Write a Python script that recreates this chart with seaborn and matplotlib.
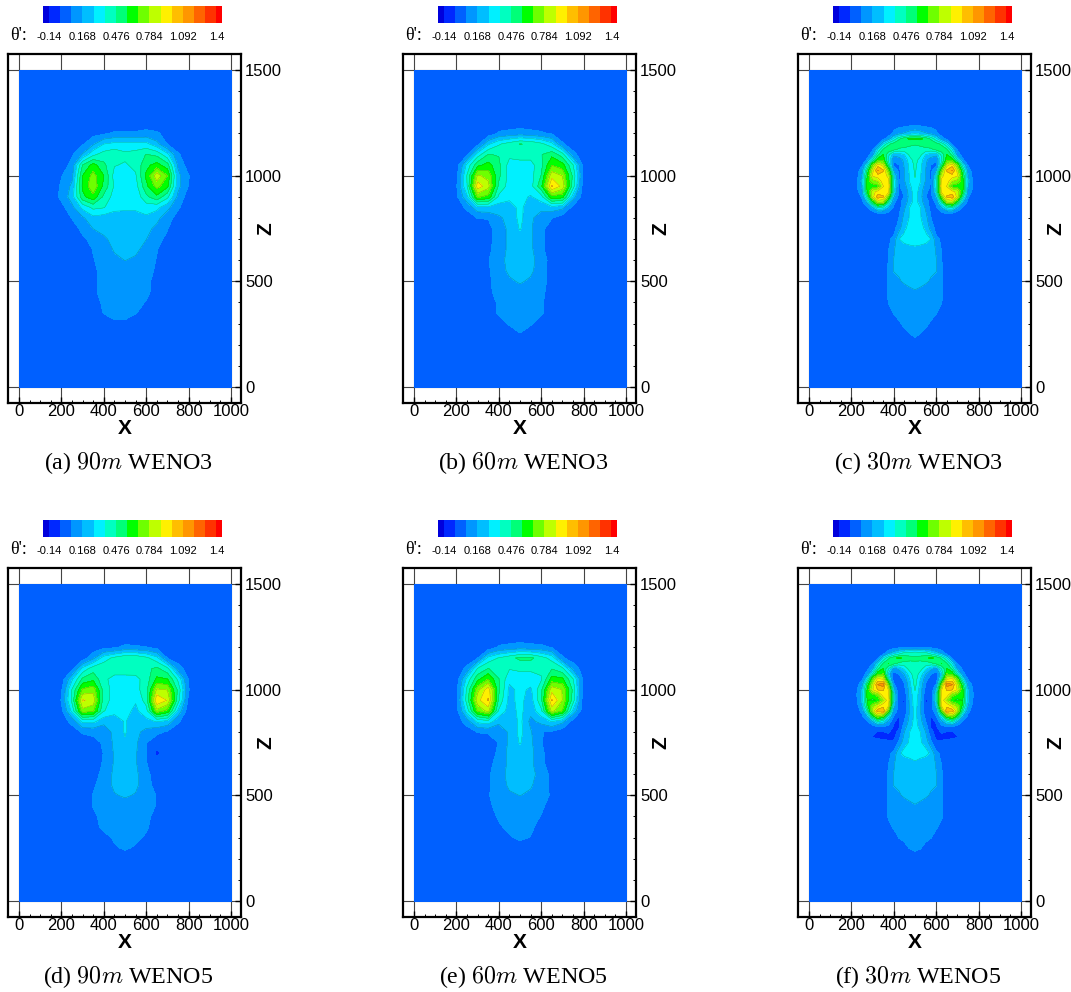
import numpy as np
import matplotlib
matplotlib.use("Agg")
import matplotlib.pyplot as plt
import seaborn as sns
from matplotlib.colors import ListedColormap, BoundaryNorm
from matplotlib.ticker import MultipleLocator

sns.set_theme(style="white")
plt.rcParams['font.family'] = ['Liberation Sans', 'DejaVu Sans']
plt.rcParams['mathtext.fontset'] = 'cm'

# contour levels and band colours
levels = np.linspace(-0.14, 1.4, 16)
band_colors = ['#0000dc', '#0028ff', '#0060ff', '#0096ff', '#00beff', '#00f0ff',
               '#00ffc0', '#00ff78', '#00ff00', '#6eff00', '#beff00', '#fff000',
               '#ffbe00', '#ff9600', '#ff6400', '#ff3200', '#ff0000']
bar_labels = ['-0.14', '0.168', '0.476', '0.784', '1.092', '1.4']
captions = ['(a) $90m$ WENO3', '(b) $60m$ WENO3', '(c) $30m$ WENO3',
            '(d) $90m$ WENO5', '(e) $60m$ WENO5', '(f) $30m$ WENO5']

# coarse grid, whole width (a, b, d, e)
x_full = [150, 200, 250, 300, 350, 400, 450, 500, 550, 600, 650, 700, 750, 800, 850]
z_full = [1200, 1150, 1100, 1050, 1000, 950, 900, 850, 800, 750, 700, 650, 600, 550, 500, 450, 400, 350, 300, 250]

# theta', in hundredths, rows from the top down
theta_a = [
    [0, 0, 0, 0, 3, 5, 8, 8, 8, 10, 8, 3, 0, 0, 0],
    [0, 0, 0, 5, 15, 27, 30, 30, 30, 30, 20, 6, 0, 0, 0],
    [0, 0, 5, 18, 35, 42, 45, 40, 42, 48, 45, 30, 8, 0, 0],
    [0, 0, 10, 48, 62, 50, 38, 36, 40, 55, 62, 52, 15, 1, 0],
    [0, 6, 14, 58, 72, 58, 33, 30, 36, 60, 85, 68, 20, 7, 0],
    [0, 8, 19, 60, 76, 55, 36, 30, 33, 55, 72, 60, 20, 6, 0],
    [0, 9, 22, 55, 65, 45, 33, 30, 30, 45, 55, 40, 14, 1, 0],
    [0, 3, 14, 30, 40, 38, 30, 28, 28, 32, 30, 20, 8, 0, 0],
    [0, 0, 7, 15, 24, 22, 22, 25, 25, 25, 20, 10, 3, 0, 0],
    [0, 0, 2, 9, 17, 20, 21, 22, 22, 20, 14, 7, 0, 0, 0],
    [0, 0, 0, 5, 9, 15, 20, 23, 22, 17, 10, 4, 0, 0, 0],
    [0, 0, 0, 0, 7, 10, 18, 22, 19, 13, 7, 0, 0, 0, 0],
    [0, 0, 0, 0, 6, 10, 14, 17, 15, 11, 6, 0, 0, 0, 0],
    [0, 0, 0, 0, 5, 9, 12, 13, 12, 10, 5, 0, 0, 0, 0],
    [0, 0, 0, 0, 5, 9, 10, 11, 10, 9, 3, 0, 0, 0, 0],
    [0, 0, 0, 0, 5, 9, 10, 10, 10, 9, 2, 0, 0, 0, 0],
    [0, 0, 0, 0, 3, 8, 10, 10, 9, 6, 0, 0, 0, 0, 0],
    [0, 0, 0, 0, 0, 7, 9, 9, 7, 2, 0, 0, 0, 0, 0],
    [0, 0, 0, 0, 0, 0, 5, 5, 0, 0, 0, 0, 0, 0, 0],
    [0, 0, 0, 0, 0, 0, 0, 0, 0, 0, 0, 0, 0, 0, 0],
]
theta_b = [
    [0, 0, 0, 0, 0, 8, 10, 12, 10, 8, 5, 0, 0, 0, 0],
    [0, 0, 0, 3, 25, 36, 42, 48, 46, 40, 30, 8, 0, 0, 0],
    [0, 0, 5, 32, 48, 47, 40, 42, 42, 47, 55, 42, 10, 0, 0],
    [0, 0, 30, 55, 62, 50, 33, 33, 33, 45, 68, 62, 38, 3, 0],
    [0, 3, 38, 80, 75, 50, 33, 33, 33, 48, 85, 78, 45, 3, 0],
    [0, 5, 37, 95, 82, 45, 33, 33, 33, 55, 100, 85, 42, 0, 0],
    [0, 4, 25, 70, 65, 35, 30, 30, 26, 33, 65, 62, 22, 0, 0],
    [0, 0, 9, 24, 25, 22, 22, 30, 20, 20, 23, 20, 3, 0, 0],
    [0, 0, 0, 7, 7, 15, 20, 30, 19, 11, 7, 0, 0, 0, 0],
    [0, 0, 0, 0, 3, 12, 19, 28, 18, 10, 0, 0, 0, 0, 0],
    [0, 0, 0, 0, 3, 12, 19, 22, 18, 10, 0, 0, 0, 0, 0],
    [0, 0, 0, 0, 4, 12, 19, 20, 19, 9, 0, 0, 0, 0, 0],
    [0, 0, 0, 0, 6, 13, 20, 21, 20, 12, 2, 0, 0, 0, 0],
    [0, 0, 0, 0, 5, 12, 19, 21, 19, 11, 2, 0, 0, 0, 0],
    [0, 0, 0, 0, 5, 10, 15, 18, 15, 10, 3, 0, 0, 0, 0],
    [0, 0, 0, 0, 5, 9, 12, 13, 12, 9, 2, 0, 0, 0, 0],
    [0, 0, 0, 0, 2, 8, 11, 12, 11, 8, 1, 0, 0, 0, 0],
    [0, 0, 0, 0, 0, 8, 10, 11, 10, 8, 0, 0, 0, 0, 0],
    [0, 0, 0, 0, 0, 2, 8, 10, 8, 2, 0, 0, 0, 0, 0],
    [0, 0, 0, 0, 0, 0, 0, 6, 0, 0, 0, 0, 0, 0, 0],
]
theta_d = [
    [0, 0, 0, 0, 0, 4, 5, 9, 8, 7, 3, 0, 0, 0, 0],
    [0, 0, 0, 0, 14, 32, 40, 46, 46, 40, 30, 6, 0, 0, 0],
    [0, 0, 3, 30, 43, 45, 44, 44, 43, 45, 50, 40, 12, 0, 0],
    [0, 0, 25, 50, 55, 40, 33, 33, 34, 42, 60, 58, 35, 5, 0],
    [0, 5, 38, 70, 75, 43, 33, 33, 33, 44, 80, 78, 45, 7, 0],
    [0, 7, 40, 90, 85, 42, 33, 33, 28, 42, 98, 88, 42, 3, 0],
    [0, 4, 30, 75, 70, 38, 31, 30, 25, 33, 75, 65, 25, 0, 0],
    [0, 0, 10, 30, 30, 20, 20, 28, 20, 24, 28, 24, 8, 0, 0],
    [0, 0, 0, 8, 9, 10, 20, 28, 20, 13, 9, 5, 0, 0, 0],
    [0, 0, 0, 0, 3, 8, 19, 26, 19, 7, 0, 0, 0, 0, 0],
    [0, 0, 0, 0, 0, 7, 18, 21, 18, 7, -6, 0, 0, 0, 0],
    [0, 0, 0, 0, 0, 8, 18, 20, 18, 7, 0, 0, 0, 0, 0],
    [0, 0, 0, 0, 2, 10, 19, 21, 19, 10, 0, 0, 0, 0, 0],
    [0, 0, 0, 0, 5, 11, 19, 21, 19, 11, 2, 0, 0, 0, 0],
    [0, 0, 0, 0, 7, 11, 16, 18, 16, 11, 6, 0, 0, 0, 0],
    [0, 0, 0, 0, 7, 10, 12, 13, 12, 10, 6, 0, 0, 0, 0],
    [0, 0, 0, 0, 5, 9, 11, 12, 11, 9, 3, 0, 0, 0, 0],
    [0, 0, 0, 0, 3, 9, 10, 11, 10, 8, 1, 0, 0, 0, 0],
    [0, 0, 0, 0, 0, 3, 8, 10, 9, 5, 0, 0, 0, 0, 0],
    [0, 0, 0, 0, 0, 0, 5, 8, 5, 0, 0, 0, 0, 0, 0],
]
theta_e = [
    [0, 0, 0, 0, 0, 8, 10, 12, 10, 9, 6, 0, 0, 0, 0],
    [0, 0, 0, 6, 30, 38, 44, 50, 50, 42, 33, 8, 0, 0, 0],
    [0, 0, 9, 38, 48, 42, 38, 39, 39, 40, 47, 40, 14, 0, 0],
    [0, 0, 30, 55, 68, 48, 30, 33, 33, 36, 62, 60, 38, 4, 0],
    [0, 3, 40, 75, 95, 50, 24, 30, 25, 45, 85, 78, 45, 0, 0],
    [0, 4, 42, 85, 100, 45, 24, 30, 22, 45, 100, 78, 42, 0, 0],
    [0, 2, 32, 70, 82, 36, 22, 30, 20, 35, 82, 68, 25, 0, 0],
    [0, 0, 12, 30, 33, 20, 18, 30, 14, 20, 28, 20, 2, 0, 0],
    [0, 0, 0, 7, 8, 8, 19, 30, 18, 7, 5, 0, 0, 0, 0],
    [0, 0, 0, 0, 0, 7, 19, 28, 19, 7, 0, 0, 0, 0, 0],
    [0, 0, 0, 0, 0, 9, 20, 22, 20, 9, 0, 0, 0, 0, 0],
    [0, 0, 0, 0, 3, 11, 19, 22, 19, 10, 0, 0, 0, 0, 0],
    [0, 0, 0, 0, 5, 12, 20, 22, 20, 13, 3, 0, 0, 0, 0],
    [0, 0, 0, 0, 5, 11, 19, 20, 18, 12, 4, 0, 0, 0, 0],
    [0, 0, 0, 0, 6, 10, 15, 17, 15, 11, 5, 0, 0, 0, 0],
    [0, 0, 0, 0, 5, 9, 11, 12, 11, 9, 1, 0, 0, 0, 0],
    [0, 0, 0, 0, 1, 8, 10, 11, 10, 6, 0, 0, 0, 0, 0],
    [0, 0, 0, 0, 0, 5, 9, 10, 9, 2, 0, 0, 0, 0, 0],
    [0, 0, 0, 0, 0, 0, 5, 9, 6, 0, 0, 0, 0, 0, 0],
    [0, 0, 0, 0, 0, 0, 0, 0, 0, 0, 0, 0, 0, 0, 0],
]

# finer grid for the 30m runs, left half up to the centre line (c, f)
x_half = [150, 175, 200, 225, 250, 275, 300, 325, 350, 375, 400, 425, 450, 475, 500]
z_half = [1200, 1175, 1150, 1125, 1100, 1075, 1050, 1025, 1000, 975, 950, 925, 900, 875, 850, 825, 800,
          775, 750, 725, 700, 650, 600, 550, 500, 450, 400, 350, 300, 250]

theta_c = [
    [0, 0, 0, 0, 0, 0, 0, 0, 0, 0, 9, 14, 18, 22, 25],
    [0, 0, 0, 0, 0, 0, 0, 0, 3, 12, 30, 45, 55, 60, 60],
    [0, 0, 0, 0, 0, 0, 0, 4, 28, 45, 52, 57, 53, 50, 48],
    [0, 0, 0, 0, 0, 0, 5, 28, 48, 55, 52, 45, 45, 44, 46],
    [0, 0, 0, 0, 0, 2, 12, 45, 58, 40, 20, 22, 27, 40, 44],
    [0, 0, 0, 0, 0, 8, 38, 62, 65, 35, 8, 12, 19, 33, 42],
    [0, 0, 0, 0, 5, 32, 70, 95, 85, 45, 4, 6, 18, 30, 40],
    [0, 0, 0, 0, 14, 50, 85, 110, 100, 70, 15, 4, 17, 29, 39],
    [0, 0, 0, 1, 18, 58, 90, 95, 95, 85, 30, 3, 17, 28, 38],
    [0, 0, 0, 5, 20, 62, 75, 80, 95, 92, 35, 5, 16, 28, 36],
    [0, 0, 0, 5, 18, 65, 62, 65, 88, 95, 35, 5, 13, 24, 36],
    [0, 0, 0, 2, 15, 58, 85, 92, 95, 92, 30, 4, 8, 22, 33],
    [0, 0, 0, 0, 8, 42, 85, 105, 100, 70, 18, 3, 7, 21, 32],
    [0, 0, 0, 0, 3, 20, 55, 80, 78, 40, 8, 3, 11, 22, 32],
    [0, 0, 0, 0, 0, 5, 18, 40, 35, 18, 5, 2, 15, 27, 32],
    [0, 0, 0, 0, 0, 0, 3, 7, 8, 6, 2, 5, 18, 28, 33],
    [0, 0, 0, 0, 0, 0, 0, 0, 0, 0, 0, 7, 21, 28, 32],
    [0, 0, 0, 0, 0, 0, 0, 0, 0, 0, 0, 9, 24, 29, 33],
    [0, 0, 0, 0, 0, 0, 0, 0, 0, 0, 3, 13, 26, 29, 33],
    [0, 0, 0, 0, 0, 0, 0, 0, 0, 0, 5, 20, 28, 30, 33],
    [0, 0, 0, 0, 0, 0, 0, 0, 0, 4, 10, 27, 30, 31, 33],
    [0, 0, 0, 0, 0, 0, 0, 0, 0, 6, 16, 21, 23, 24, 24],
    [0, 0, 0, 0, 0, 0, 0, 0, 0, 7, 17, 19, 20, 21, 22],
    [0, 0, 0, 0, 0, 0, 0, 0, 0, 8, 17, 18, 19, 20, 21],
    [0, 0, 0, 0, 0, 0, 0, 0, 0, 8, 15, 16, 18, 19, 20],
    [0, 0, 0, 0, 0, 0, 0, 0, 0, 8, 10, 12, 13, 15, 16],
    [0, 0, 0, 0, 0, 0, 0, 0, 0, 7, 9, 11, 12, 13, 13],
    [0, 0, 0, 0, 0, 0, 0, 0, 0, 1, 7, 10, 11, 12, 12],
    [0, 0, 0, 0, 0, 0, 0, 0, 0, 0, 1, 5, 9, 10, 11],
    [0, 0, 0, 0, 0, 0, 0, 0, 0, 0, 0, 0, 3, 6, 9],
]
theta_f = [
    [0, 0, 0, 0, 0, 0, 0, 0, 0, 0, 2, 4, 4, 5, 5],
    [0, 0, 0, 0, 0, 0, 0, 0, 0, 12, 22, 30, 38, 40, 42],
    [0, 0, 0, 0, 0, 0, 0, 3, 28, 45, 55, 60, 55, 52, 50],
    [0, 0, 0, 0, 0, 0, 6, 28, 48, 58, 52, 45, 44, 44, 46],
    [0, 0, 0, 0, 0, 4, 15, 45, 58, 38, 14, 20, 30, 42, 45],
    [0, 0, 0, 0, 0, 10, 38, 65, 68, 25, 0, 8, 18, 33, 44],
    [0, 0, 0, 0, 5, 30, 70, 92, 88, 40, -3, -1, 11, 27, 43],
    [0, 0, 0, 2, 14, 52, 82, 110, 115, 70, 8, -6, 6, 24, 41],
    [0, 0, 0, 5, 20, 60, 88, 100, 100, 88, 22, -4, 3, 22, 38],
    [0, 0, 0, 6, 22, 62, 65, 72, 95, 92, 32, -4, -1, 21, 34],
    [0, 0, 0, 5, 22, 58, 55, 60, 78, 95, 30, -1, -5, 20, 32],
    [0, 0, 0, 2, 18, 55, 75, 85, 95, 90, 22, 2, -5, 19, 32],
    [0, 0, 0, 0, 10, 40, 82, 105, 108, 68, 12, 2, -3, 18, 31],
    [0, 0, 0, 0, 4, 18, 55, 75, 68, 32, 6, -4, 3, 19, 31],
    [0, 0, 0, 0, 0, 6, 18, 38, 30, 15, -3, -6, 7, 21, 31],
    [0, 0, 0, 0, 0, 0, 2, 6, 7, 3, -5, -5, 12, 24, 31],
    [0, 0, 0, 0, 0, 0, -3, -4, -4, -3, -7, -1, 17, 27, 32],
    [0, 0, 0, 0, 0, 0, -4, -5, -6, -6, -6, 4, 20, 28, 33],
    [0, 0, 0, 0, 0, 0, 0, 0, -1, -2, -2, 9, 24, 28, 33],
    [0, 0, 0, 0, 0, 0, 0, 0, 0, 0, 3, 17, 27, 29, 33],
    [0, 0, 0, 0, 0, 0, 0, 0, 0, 4, 9, 26, 29, 30, 33],
    [0, 0, 0, 0, 0, 0, 0, 0, 0, 6, 16, 21, 23, 24, 25],
    [0, 0, 0, 0, 0, 0, 0, 0, 0, 8, 17, 19, 20, 21, 22],
    [0, 0, 0, 0, 0, 0, 0, 0, 1, 8, 17, 18, 19, 20, 21],
    [0, 0, 0, 0, 0, 0, 0, 0, 0, 8, 15, 16, 18, 19, 21],
    [0, 0, 0, 0, 0, 0, 0, 0, 0, 8, 10, 12, 13, 15, 16],
    [0, 0, 0, 0, 0, 0, 0, 0, 0, 8, 9, 11, 12, 13, 13],
    [0, 0, 0, 0, 0, 0, 0, 0, 0, 3, 8, 10, 11, 12, 12],
    [0, 0, 0, 0, 0, 0, 0, 0, 0, 0, 1, 7, 9, 10, 11],
    [0, 0, 0, 0, 0, 0, 0, 0, 0, 0, 0, 0, 3, 7, 9],
]


def full_field(theta):
    # pad with the zero background out to the domain edges
    f = np.array(theta, dtype=float) / 100
    f = np.pad(f, 2, constant_values=0.0)
    xs = [0, 100] + x_full + [900, 1000]
    zs = [1500, 1250] + z_full + [200, 0]
    return np.array(xs), np.array(zs), f


def mirrored_field(theta):
    f = np.array(theta, dtype=float) / 100
    f = np.hstack([f, f[:, -2::-1]])
    f = np.pad(f, 2, constant_values=0.0)
    xr = [1000 - v for v in x_half[-2::-1]]
    xs = [0, 125] + x_half + xr + [875, 1000]
    zs = [1500, 1250] + z_half + [200, 0]
    return np.array(xs), np.array(zs), f


fields = [full_field(theta_a), full_field(theta_b), mirrored_field(theta_c),
          full_field(theta_d), full_field(theta_e), mirrored_field(theta_f)]

W, H = 1071, 992
fig = plt.figure(figsize=(W / 100, H / 100), dpi=100)

# colour strip: half width cells, the two end bands are one cell wide
d = levels[1] - levels[0]
strip = np.arange(32)[None, :] * d / 2 + levels[0] - d / 2 + d / 4
strip_cmap = ListedColormap(band_colors)
strip_norm = BoundaryNorm(np.r_[levels[0] - d, levels, levels[-1] + d], 17)

for i, (xs, zs, f) in enumerate(fields):
    dx = 395 * (i % 3)
    dy = 514 * (i // 3)

    ax = fig.add_axes([(8 + dx) / W, 1 - (403 + dy) / H, 233 / W, 349 / H])
    ax.set_axisbelow(True)
    ax.grid(True, color='#444444', linewidth=0.8)
    ax.contourf(xs, zs, f, levels=levels, colors=band_colors[1:-1], extend='both', zorder=2)
    ax.contour(xs, zs, f, levels=levels[3:], colors='#204020', linewidths=0.3, alpha=0.45, zorder=3)
    ax.set_xlim(-51.9, 1047)
    ax.set_ylim(-75.7, 1576)
    ax.set_xticks([0, 200, 400, 600, 800, 1000])
    ax.set_yticks([0, 500, 1000, 1500])
    ax.xaxis.set_minor_locator(MultipleLocator(50))
    ax.yaxis.set_minor_locator(MultipleLocator(100))
    ax.yaxis.tick_right()
    ax.tick_params(axis='x', which='major', bottom=True, direction='in', length=4, width=1,
                   color='black', labelsize=12, pad=1, labelcolor='black')
    ax.tick_params(axis='x', which='minor', bottom=True, direction='in', length=2, width=0.7, color='black')
    ax.tick_params(axis='y', which='major', right=True, left=False, direction='in', length=4, width=1,
                   color='black', labelsize=12, pad=3, labelcolor='black')
    ax.tick_params(axis='y', which='minor', right=True, left=False, direction='in', length=2, width=0.7, color='black')
    for s in ax.spines.values():
        s.set_visible(True)
        s.set_color('black')
        s.set_linewidth(1.6)

    fig.text((125 + dx) / W, 1 - (429 + dy) / H, 'X', ha='center', va='center',
             fontsize=15, fontweight='bold', color='black')
    fig.text((266 + dx) / W, 1 - (229 + dy) / H, 'Z', ha='center', va='center', rotation=90,
             fontsize=15, fontweight='bold', color='black')
    fig.text((128 + dx) / W, 1 - (463 + dy) / H, captions[i], ha='center', va='center', color='black',
             fontsize=17.3, family=['Liberation Serif', 'DejaVu Serif'])

    # legend strip
    cax = fig.add_axes([(43.3 + dx) / W, 1 - (23 + dy) / H, 178.7 / W, 17 / H])
    sns.heatmap(strip, ax=cax, cmap=strip_cmap, norm=strip_norm, cbar=False,
                xticklabels=False, yticklabels=False)
    cax.set_xlabel('')
    cax.set_ylabel('')
    fig.text((19 + dx) / W, 1 - (36 + dy) / H, "θ':", ha='center', va='center', fontsize=13,
             color='black', family=['Liberation Serif', 'DejaVu Serif'])
    for k, lab in enumerate(bar_labels):
        px = 49 + k * 3 * 11.17 + dx
        fig.text(px / W, 1 - (37 + dy) / H, lab, ha='center', va='center', fontsize=8, color='black')

fig.savefig('out.png', dpi=100)
